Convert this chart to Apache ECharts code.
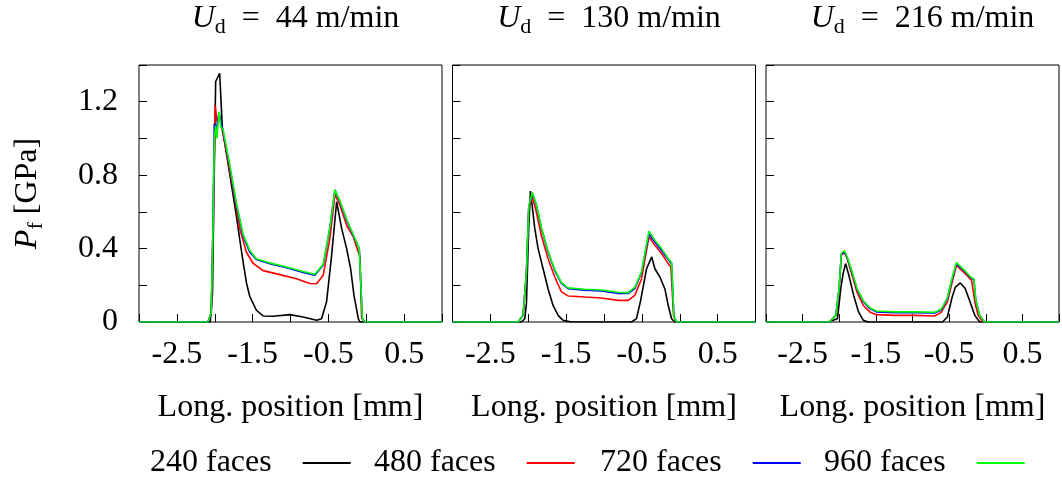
<!DOCTYPE html>
<html><head><meta charset="utf-8">
<script src="https://cdn.jsdelivr.net/npm/echarts@6/dist/echarts.min.js"></script>
<style>html,body{margin:0;padding:0;background:#fff}#c{width:1062px;height:480px}</style>
</head><body><div id="c"></div>
<script>
const speeds = ['44', '130', '216'];
const faceLabels = ['240 faces', '480 faces', '720 faces', '960 faces'];
const colors = ['#000000', '#ff0000', '#0000ff', '#00ff00'];
const xTickLabels = ['-2.5', '-1.5', '-0.5', '0.5'];
const yTickLabels = ['0', '0.4', '0.8', '1.2'];

// U_d = 44 m/min
const p44_240 = [[-3,0],[-2.06,0],[-2.03,0.15],[-2.0,1.0],[-1.988,1.31],[-1.935,1.355],[-1.9,1.06],[-1.85,0.93],[-1.80,0.80],[-1.715,0.58],[-1.67,0.45],[-1.627,0.33],[-1.58,0.21],[-1.538,0.14],[-1.45,0.064],[-1.362,0.033],[-1.23,0.031],[-1.009,0.04],[-0.833,0.027],[-0.656,0.009],[-0.59,0.018],[-0.524,0.11],[-0.458,0.36],[-0.391,0.655],[-0.325,0.51],[-0.259,0.40],[-0.206,0.29],[-0.162,0.145],[-0.105,0.018],[-0.083,0],[1,0]];
const p44_480 = [[-3,0],[-2.09,0],[-2.046,0.05],[-2.024,0.5],[-2.002,1.0],[-1.993,1.18],[-1.97,1.09],[-1.944,1.12],[-1.913,1.07],[-1.847,0.93],[-1.759,0.73],[-1.671,0.51],[-1.582,0.38],[-1.494,0.32],[-1.362,0.28],[-1.141,0.258],[-0.921,0.236],[-0.744,0.21],[-0.656,0.208],[-0.568,0.255],[-0.48,0.455],[-0.414,0.695],[-0.347,0.636],[-0.259,0.527],[-0.171,0.464],[-0.105,0.38],[-0.083,0.36],[-0.061,0.02],[-0.017,0],[1,0]];
const p44_720 = [[-3,0],[-2.09,0],[-2.046,0.05],[-2.024,0.5],[-2.006,1.08],[-1.979,1.05],[-1.944,1.14],[-1.891,1.04],[-1.803,0.85],[-1.715,0.64],[-1.627,0.47],[-1.538,0.38],[-1.45,0.34],[-1.274,0.318],[-1.053,0.296],[-0.833,0.27],[-0.678,0.255],[-0.568,0.31],[-0.48,0.51],[-0.414,0.72],[-0.347,0.655],[-0.259,0.555],[-0.171,0.47],[-0.092,0.4],[-0.074,0.39],[-0.052,0.02],[-0.017,0],[1,0]];
const p44_960 = [[-3,0],[-2.09,0],[-2.046,0.05],[-2.024,0.5],[-2.006,1.0],[-1.988,1.07],[-1.971,1.0],[-1.944,1.145],[-1.918,1.06],[-1.891,1.05],[-1.803,0.86],[-1.715,0.65],[-1.627,0.48],[-1.538,0.39],[-1.45,0.345],[-1.274,0.322],[-1.053,0.3],[-0.833,0.275],[-0.678,0.26],[-0.568,0.315],[-0.48,0.515],[-0.414,0.72],[-0.347,0.66],[-0.259,0.56],[-0.171,0.475],[-0.092,0.4],[-0.074,0.39],[-0.052,0.02],[-0.017,0],[1,0]];

// U_d = 130 m/min
const p130_240 = [[-3,0],[-2.09,0],[-2.046,0.018],[-2.024,0.1],[-1.995,0.5],[-1.971,0.713],[-1.949,0.636],[-1.914,0.51],[-1.87,0.40],[-1.804,0.29],[-1.738,0.18],[-1.672,0.09],[-1.606,0.036],[-1.54,0.009],[-1.43,0],[-0.637,0],[-0.571,0.018],[-0.52,0.11],[-0.438,0.29],[-0.37,0.355],[-0.328,0.29],[-0.262,0.245],[-0.196,0.18],[-0.152,0.09],[-0.108,0.018],[-0.064,0],[1,0]];
const p130_480 = [[-3,0],[-2.134,0],[-2.068,0.036],[-2.024,0.27],[-1.993,0.62],[-1.949,0.68],[-1.905,0.62],[-1.826,0.47],[-1.738,0.345],[-1.65,0.245],[-1.562,0.164],[-1.474,0.142],[-1.253,0.136],[-1.033,0.131],[-0.813,0.118],[-0.681,0.118],[-0.593,0.145],[-0.504,0.236],[-0.407,0.464],[-0.328,0.418],[-0.24,0.373],[-0.152,0.318],[-0.117,0.3],[-0.099,0.3],[-0.081,0.03],[-0.042,0],[1,0]];
const p130_720 = [[-3,0],[-2.134,0],[-2.068,0.036],[-2.024,0.27],[-1.993,0.63],[-1.945,0.70],[-1.892,0.636],[-1.826,0.51],[-1.738,0.38],[-1.65,0.28],[-1.562,0.21],[-1.474,0.182],[-1.253,0.173],[-1.033,0.169],[-0.813,0.155],[-0.681,0.155],[-0.593,0.182],[-0.504,0.27],[-0.407,0.48],[-0.328,0.436],[-0.24,0.39],[-0.152,0.34],[-0.108,0.318],[-0.095,0.32],[-0.077,0.03],[-0.042,0],[1,0]];
const p130_960 = [[-3,0],[-2.134,0],[-2.068,0.036],[-2.024,0.27],[-1.993,0.635],[-1.945,0.705],[-1.892,0.64],[-1.826,0.515],[-1.738,0.385],[-1.65,0.285],[-1.562,0.215],[-1.474,0.186],[-1.253,0.178],[-1.033,0.174],[-0.813,0.162],[-0.681,0.16],[-0.593,0.188],[-0.504,0.275],[-0.407,0.495],[-0.328,0.445],[-0.24,0.40],[-0.152,0.345],[-0.108,0.325],[-0.095,0.33],[-0.077,0.03],[-0.042,0],[1,0]];

// U_d = 216 m/min
const p216_240 = [[-3,0],[-2.156,0],[-2.024,0.018],[-1.98,0.18],[-1.944,0.27],[-1.913,0.318],[-1.869,0.255],[-1.803,0.145],[-1.737,0.055],[-1.671,0.009],[-1.605,0],[-0.59,0],[-0.524,0.027],[-0.458,0.136],[-0.414,0.19],[-0.347,0.213],[-0.281,0.182],[-0.215,0.11],[-0.149,0.036],[-0.083,0],[1,0]];
const p216_480 = [[-3,0],[-2.134,0],[-2.046,0.036],[-2.002,0.18],[-1.971,0.364],[-1.927,0.378],[-1.891,0.345],[-1.825,0.255],[-1.759,0.164],[-1.671,0.09],[-1.583,0.055],[-1.494,0.04],[-1.23,0.036],[-0.965,0.036],[-0.7,0.033],[-0.612,0.051],[-0.524,0.11],[-0.458,0.218],[-0.40,0.31],[-0.325,0.28],[-0.259,0.255],[-0.193,0.227],[-0.171,0.218],[-0.149,0.11],[-0.105,0.036],[-0.039,0],[1,0]];
const p216_720 = [[-3,0],[-2.134,0],[-2.046,0.036],[-2.002,0.18],[-1.971,0.37],[-1.927,0.38],[-1.891,0.35],[-1.825,0.27],[-1.759,0.18],[-1.671,0.11],[-1.583,0.073],[-1.494,0.055],[-1.23,0.051],[-0.965,0.051],[-0.7,0.049],[-0.612,0.064],[-0.524,0.127],[-0.458,0.236],[-0.40,0.318],[-0.325,0.29],[-0.259,0.264],[-0.193,0.236],[-0.162,0.233],[-0.136,0.12],[-0.083,0.036],[-0.017,0],[1,0]];
const p216_960 = [[-3,0],[-2.134,0],[-2.046,0.036],[-2.002,0.185],[-1.971,0.375],[-1.927,0.387],[-1.891,0.355],[-1.825,0.275],[-1.759,0.185],[-1.671,0.115],[-1.583,0.078],[-1.494,0.06],[-1.23,0.055],[-0.965,0.055],[-0.7,0.053],[-0.612,0.068],[-0.524,0.132],[-0.458,0.242],[-0.40,0.324],[-0.325,0.295],[-0.259,0.268],[-0.193,0.24],[-0.162,0.237],[-0.136,0.12],[-0.083,0.036],[-0.017,0],[1,0]];

const panels = [
  [p44_240, p44_480, p44_720, p44_960],
  [p130_240, p130_480, p130_720, p130_960],
  [p216_240, p216_480, p216_720, p216_960]
];

const FONT = 'Liberation Serif';
const FS = 32;
const gridLefts = [139, 452.5, 766];
const GW = 303, GT = 65, GH = 257;
const legendLefts = [145, 369, 595, 819];

const chart = echarts.init(document.getElementById('c'), null, {renderer: 'canvas'});

const grid = gridLefts.map(l => ({left: l, top: GT, width: GW, height: GH, show: true, borderColor: '#000', borderWidth: 1, backgroundColor: 'transparent'}));

const xAxis = gridLefts.map((l, i) => ({
  type: 'value', gridIndex: i, min: -3, max: 1, interval: 0.5, position: 'bottom',
  axisLine: {show: false, onZero: false},
  axisTick: {show: true, inside: true, length: 8, lineStyle: {color: '#000', width: 1}},
  splitLine: {show: false},
  axisLabel: {
    margin: 17, fontSize: FS, fontFamily: FONT, color: '#000', showMinLabel: true, showMaxLabel: true,
    formatter: v => { const s = String(Math.round(v * 10) / 10); return xTickLabels.includes(s) ? s : ''; }
  },
  name: 'Long. position [mm]', nameLocation: 'middle', nameGap: 70,
  nameTextStyle: {fontSize: FS, fontFamily: FONT, color: '#000'}
}));

const yAxis = gridLefts.map((l, i) => ({
  type: 'value', gridIndex: i, min: 0, max: 1.4, interval: 0.2, position: 'left',
  axisLine: {show: false, onZero: false},
  axisTick: {show: true, inside: true, length: 8, lineStyle: {color: '#000', width: 1}},
  splitLine: {show: false},
  axisLabel: {
    show: i === 0, margin: 21, fontSize: FS, fontFamily: FONT, color: '#000',
    formatter: v => { const s = String(Math.round(v * 10) / 10); return yTickLabels.includes(s) ? s : ''; }
  },
  name: i === 0 ? '{i|P}{s|f} [GPa]' : '', nameLocation: 'middle', nameGap: 92, nameRotate: 90,
  nameTextStyle: {fontSize: FS, fontFamily: FONT, color: '#000',
    rich: {i: {fontSize: FS, fontFamily: FONT, fontStyle: 'italic', color: '#000'},
           s: {fontSize: 22, fontFamily: FONT, color: '#000', padding: [16, 0, 0, 0]}}}
}));

const title = speeds.map((s, i) => ({
  text: '{u|U}{d|d}{r|\u2002=\u2002' + s + ' m/min}',
  left: gridLefts[i] + GW / 2, top: -5, textAlign: 'center',
  textStyle: {
    fontSize: FS, fontFamily: FONT, color: '#000', fontWeight: 'normal',
    rich: {
      u: {fontSize: FS, fontFamily: FONT, fontStyle: 'italic', color: '#000'},
      d: {fontSize: 22, fontFamily: FONT, color: '#000', padding: [16, 0, 0, 0]},
      r: {fontSize: FS, fontFamily: FONT, color: '#000'}
    }
  }
}));

const legend = faceLabels.map((n, i) => ({
  data: [{name: n, icon: 'rect'}], left: legendLefts[i], top: 442, align: 'right',
  itemWidth: 48, itemHeight: 2, itemGap: 0, selectedMode: false,
  textStyle: {fontSize: FS, fontFamily: FONT, color: '#000', padding: [0, 26, 0, 0]}
}));

const series = [];
panels.forEach((arr, pi) => arr.forEach((d, si) => series.push({
  type: 'line', name: faceLabels[si], xAxisIndex: pi, yAxisIndex: pi, data: d,
  symbol: 'none', showSymbol: false, smooth: false,
  lineStyle: {color: colors[si], width: 1.6}, itemStyle: {color: colors[si]},
  z: 2 + si
})));

chart.setOption({animation: false, backgroundColor: '#fff', title, legend, grid, xAxis, yAxis, series});
</script></body></html>
